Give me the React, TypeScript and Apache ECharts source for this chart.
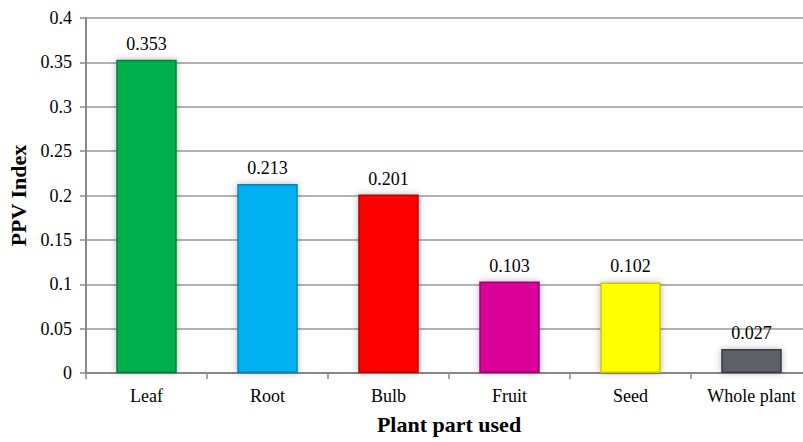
import React, { useEffect, useRef } from "react";
import * as echarts from "echarts";

const categories = ["Leaf", "Root", "Bulb", "Fruit", "Seed", "Whole plant"];
const values = [0.353, 0.213, 0.201, 0.103, 0.102, 0.027];
const fillColors = ["#00B04F", "#00B0F0", "#FF0000", "#DC009B", "#FFFF00", "#5E5E68"];
const borderColors = ["#00803A", "#0086B8", "#C00000", "#A00070", "#C8C800", "#3A3A42"];
const yTicks = ["0", "0.05", "0.1", "0.15", "0.2", "0.25", "0.3", "0.35", "0.4"];

const FONT = "'Liberation Serif', 'Times New Roman', serif";

export default function App() {
  const ref = useRef<HTMLDivElement>(null);
  useEffect(() => {
    if (!ref.current) return;
    const chart = echarts.init(ref.current, null, { renderer: "svg" });
    chart.setOption({
      animation: false,
      backgroundColor: "#ffffff",
      grid: {
        left: 86,
        top: 18,
        width: 726,
        bottom: 69,
        containLabel: false,
        outerBoundsMode: "none",
      },
      xAxis: {
        type: "category",
        data: categories,
        name: "Plant part used",
        nameLocation: "middle",
        nameGap: 40,
        nameTextStyle: { fontFamily: FONT, fontSize: 22, fontWeight: "bold", color: "#000" },
        axisLine: { lineStyle: { color: "#888888", width: 2 } },
        axisTick: { show: true, length: 6, lineStyle: { color: "#888888", width: 1.5 } },
        axisLabel: { fontFamily: FONT, fontSize: 18, color: "#000", margin: 14 },
      },
      yAxis: {
        type: "value",
        min: 0,
        max: 0.4,
        interval: 0.05,
        name: "PPV Index",
        nameLocation: "middle",
        nameGap: 54,
        nameTextStyle: { fontFamily: FONT, fontSize: 22, fontWeight: "bold", color: "#000" },
        axisLine: { show: true, lineStyle: { color: "#888888", width: 2 } },
        axisTick: { show: true, length: 6, lineStyle: { color: "#888888", width: 1.5 } },
        axisLabel: {
          fontFamily: FONT,
          fontSize: 18,
          color: "#000",
          margin: 14,
          formatter: (v: number) => {
            const idx = Math.round(v / 0.05);
            return yTicks[idx] ?? String(v);
          },
        },
        splitLine: { show: true, lineStyle: { color: "#999999", width: 1.5 } },
      },
      series: [
        {
          type: "bar",
          barWidth: "50%",
          data: values.map((v, i) => ({
            value: v,
            itemStyle: {
              color: fillColors[i],
              borderColor: borderColors[i],
              borderWidth: 1.5,
              shadowColor: "rgba(0,0,0,0.28)",
              shadowBlur: 7,
            },
          })),
          label: {
            show: true,
            position: "top",
            distance: 7,
            fontFamily: FONT,
            fontSize: 18,
            color: "#000",
            formatter: (p: any) => values[p.dataIndex].toFixed(3),
          },
        },
      ],
    });
    return () => chart.dispose();
  }, []);
  return <div ref={ref} style={{ width: 803, height: 442, position: "absolute", left: 0, top: 0 }} />;
}
